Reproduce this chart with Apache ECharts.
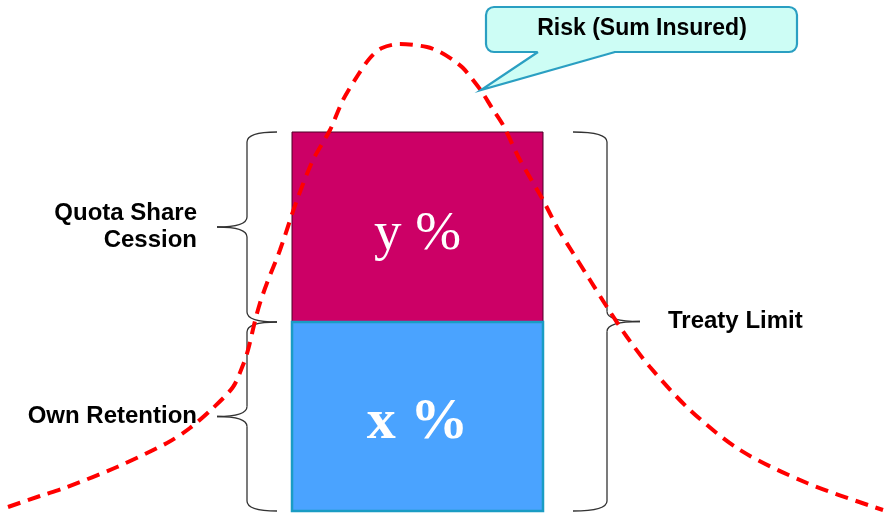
<!DOCTYPE html>
<html>
<head>
<meta charset="utf-8">
<script src="https://cdn.jsdelivr.net/npm/echarts@6/dist/echarts.min.js"></script>
<style>
  html, body { margin: 0; padding: 0; background: #ffffff; }
  #main { width: 886px; height: 516px; }
</style>
</head>
<body>
<div id="main"></div>
<script>
// risk curve (sum insured vs. density)
const curveX = [8, 40, 67, 117, 167, 190, 213, 233, 243, 248, 255, 260, 267, 280, 297, 313, 330, 343, 358, 370,
  382, 400, 427, 440, 453, 463, 473, 482, 492, 503, 520, 543, 557, 573, 590, 607, 627, 650, 690, 740, 807, 883];
const curveY = [9, 20, 29, 49, 73, 88, 108, 129, 151, 166, 195, 213, 233, 266, 316, 356, 386, 416, 441, 458,
  468, 472, 469, 464, 456, 448, 436, 424, 408, 391, 356, 316, 289, 263, 236, 209, 179, 149, 106, 66, 33, 6];

// the two layers of the quota share
const layerNames = ['y %', 'x %'];
const layerFrom = [194, 5];
const layerTo = [384, 194];
const riskFrom = 292;
const riskTo = 543;

// braces
const braceLabels = ['Quota Share\nCession', 'Own Retention', 'Treaty Limit'];
const braceFrom = [194, 5, 5];
const braceTo = [384, 194, 384];
const braceSide = ['left', 'left', 'right'];

const braceLayout = {
  left: { spine: 247, tip: 277, point: 217 },
  right: { spine: 607, tip: 573, point: 640 }
};

const layerStyle = [
  { fill: '#cc0066', stroke: '#4d0026', lineWidth: 1, font: '55px "Liberation Serif"', z2: 1, dy: 8 },
  { fill: '#4aa3ff', stroke: '#1a9cc4', lineWidth: 2.5, font: 'bold 58px "Liberation Serif"', z2: 2, dy: 7 }
];

const chart = echarts.init(document.getElementById('main'), null, { renderer: 'canvas' });

function renderLayer(params, api) {
  const i = params.dataIndex;
  const st = layerStyle[i];
  const p0 = api.coord([api.value(0), api.value(3)]);
  const p1 = api.coord([api.value(1), api.value(2)]);
  return {
    type: 'group',
    children: [{
      type: 'rect',
      z2: st.z2,
      shape: { x: p0[0], y: p0[1], width: p1[0] - p0[0], height: p1[1] - p0[1] },
      style: { fill: st.fill, stroke: st.stroke, lineWidth: st.lineWidth }
    }, {
      type: 'text',
      z2: 3,
      x: (p0[0] + p1[0]) / 2,
      y: (p0[1] + p1[1]) / 2 + st.dy,
      style: {
        text: layerNames[i], fill: '#ffffff', font: st.font,
        align: 'center', verticalAlign: 'middle'
      }
    }]
  };
}

function renderBrace(params, api) {
  const i = params.dataIndex;
  const lay = braceLayout[braceSide[i]];
  const top = api.coord([lay.spine, api.value(1)]);
  const bot = api.coord([lay.spine, api.value(0)]);
  const sx = top[0];
  const tx = api.coord([lay.tip, 0])[0];
  const px = api.coord([lay.point, 0])[0];
  const yT = top[1], yB = bot[1], yM = (yT + yB) / 2;
  const ln = { stroke: '#333333', lineWidth: 1.3, fill: null };
  const isLeft = braceSide[i] === 'left';
  return {
    type: 'group',
    children: [
      { type: 'bezierCurve', shape: { x1: tx, y1: yT, cpx1: sx, cpy1: yT, x2: sx, y2: yT + 10 }, style: ln },
      { type: 'line', shape: { x1: sx, y1: yT + 10, x2: sx, y2: yM - 10 }, style: ln },
      { type: 'bezierCurve', shape: { x1: sx, y1: yM - 10, cpx1: sx, cpy1: yM, x2: px, y2: yM }, style: ln },
      { type: 'bezierCurve', shape: { x1: px, y1: yM, cpx1: sx, cpy1: yM, x2: sx, y2: yM + 10 }, style: ln },
      { type: 'line', shape: { x1: sx, y1: yM + 10, x2: sx, y2: yB - 10 }, style: ln },
      { type: 'bezierCurve', shape: { x1: sx, y1: yB - 10, cpx1: sx, cpy1: yB, x2: tx, y2: yB }, style: ln },
      {
        type: 'text',
        x: isLeft ? px - 20 : px + 28,
        y: yM,
        style: {
          text: braceLabels[i], fill: '#000000', font: 'bold 24px "Liberation Sans"',
          lineHeight: 27, align: isLeft ? 'right' : 'left', verticalAlign: 'middle'
        }
      }
    ]
  };
}

const bubble = '#cdfdf5';
const bubbleLine = '#2a9fc2';

const option = {
  backgroundColor: '#ffffff',
  animation: false,
  grid: { left: 0, right: 0, top: 0, bottom: 0 },
  xAxis: { type: 'value', min: 0, max: 886, show: false },
  yAxis: { type: 'value', min: 0, max: 516, show: false },
  series: [{
    type: 'custom',
    renderItem: renderLayer,
    data: layerNames.map((n, i) => [riskFrom, riskTo, layerFrom[i], layerTo[i]]),
    z: 2
  }, {
    type: 'custom',
    renderItem: renderBrace,
    data: braceLabels.map((n, i) => [braceFrom[i], braceTo[i]]),
    z: 3
  }, {
    type: 'line',
    data: curveX.map((x, i) => [x, curveY[i]]),
    smooth: 0.3,
    symbol: 'none',
    lineStyle: { color: '#ff0000', width: 4, type: [13, 8] },
    z: 5
  }],
  graphic: [
    { type: 'rect', z: 10, shape: { x: 486, y: 7, width: 311, height: 45, r: 8 },
      style: { fill: bubble, stroke: bubbleLine, lineWidth: 2.2 } },
    { type: 'polygon', z: 11, shape: { points: [[538, 51], [615, 51], [481, 90]] }, style: { fill: bubble } },
    { type: 'rect', z: 11, shape: { x: 539, y: 50.8, width: 75, height: 2.4 }, style: { fill: bubble } },
    { type: 'polyline', z: 12, shape: { points: [[538, 52], [481, 90], [615, 52]] },
      style: { stroke: bubbleLine, lineWidth: 2.2, fill: null } },
    { type: 'text', z: 13, x: 642, y: 29,
      style: { text: 'Risk (Sum Insured)', fill: '#000000', font: 'bold 23px "Liberation Sans"',
        align: 'center', verticalAlign: 'middle' } }
  ]
};

chart.setOption(option);
</script>
</body>
</html>
